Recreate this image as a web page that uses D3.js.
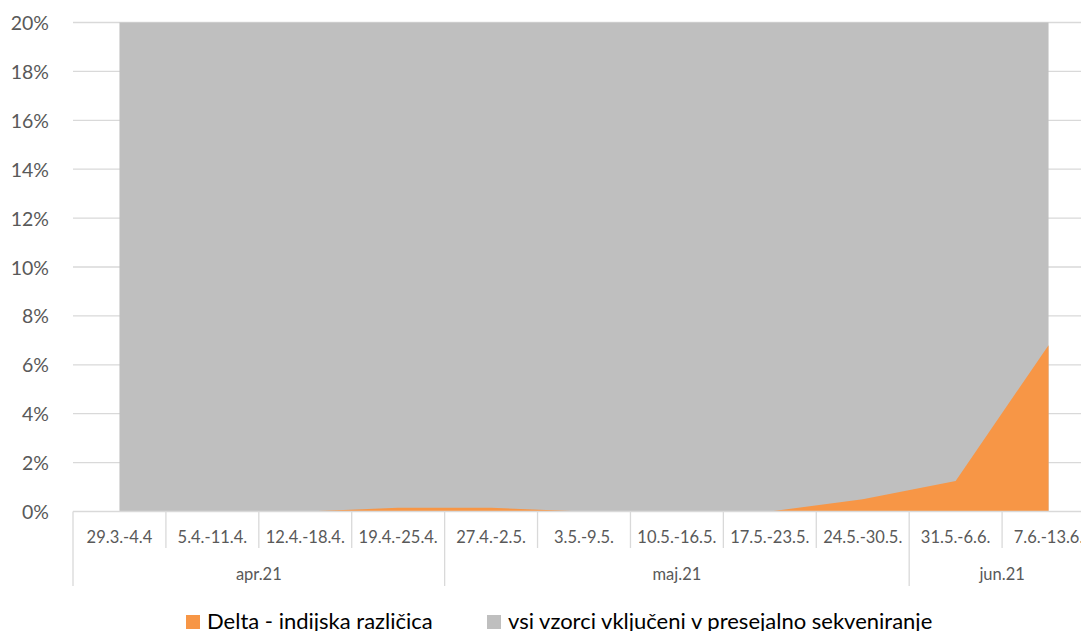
<!DOCTYPE html>
<html><head><meta charset="utf-8">
<script src="https://cdn.jsdelivr.net/npm/d3@7"></script>
<style>
html,body{margin:0;padding:0;background:#fff;overflow:hidden;}
svg{display:block;font-family:Lato,"Open Sans",sans-serif;}
</style></head>
<body><svg id="chart" width="1081" height="631"></svg>
<script>
const categories = ["29.3.-4.4","5.4.-11.4.","12.4.-18.4.","19.4.-25.4.","27.4.-2.5.","3.5.-9.5.","10.5.-16.5.","17.5.-23.5.","24.5.-30.5.","31.5.-6.6.","7.6.-13.6."];
const months = ["apr.21","maj.21","jun.21"];
const monthSpans = [4,5,2];
const deltaValues = [0,0,0,0.15,0.15,0,0,0,0.5,1.25,6.8];
const allSamples = [100,100,100,100,100,100,100,100,100,100,100];
const yTicks = [0,2,4,6,8,10,12,14,16,18,20];
const seriesNames = ["Delta - indijska različica","vsi vzorci vključeni v presejalno sekveniranje"];
const colors = ["#F79646","#BFBFBF"];

const svg = d3.select("#chart");
const pLeft = 73, pRight = 1095, pTop = 22.5, pBottom = 511.5;
const x = d3.scaleBand().domain(categories).range([pLeft,pRight]).paddingInner(0).paddingOuter(0);
const y = d3.scaleLinear().domain([0,20]).range([pBottom,pTop]);
const cx = c => x(c) + x.bandwidth()/2;

svg.append("defs").append("clipPath").attr("id","plotclip")
  .append("rect").attr("x",pLeft).attr("y",pTop).attr("width",pRight-pLeft).attr("height",pBottom-pTop);

// gridlines
svg.append("g").selectAll("line").data(yTicks.slice(1)).join("line")
  .attr("x1",pLeft).attr("x2",1081).attr("y1",d=>y(d)).attr("y2",d=>y(d))
  .attr("stroke","#d9d9d9").attr("stroke-width",1.3);

// y labels
svg.append("g").selectAll("text").data(yTicks).join("text")
  .attr("x",49).attr("y",d=>y(d)).attr("text-anchor","end").attr("dominant-baseline","central")
  .attr("fill","#595959").style("font-size","19.5px").text(d=>d+"%");

const plot = svg.append("g").attr("clip-path","url(#plotclip)");
const area = vals => d3.area().x((d,i)=>cx(categories[i])).y0(y(0)).y1(d=>y(d))(vals);
plot.append("path").attr("d",area(allSamples)).attr("fill",colors[1]);
plot.append("path").attr("d",area(deltaValues)).attr("fill",colors[0]);

// x axis line
svg.append("line").attr("x1",pLeft).attr("x2",1081).attr("y1",y(0)).attr("y2",y(0))
  .attr("stroke","#d9d9d9").attr("stroke-width",1.3);

// category tick separators
const bounds = categories.map(c=>x(c));
bounds.push(pRight);
svg.append("g").selectAll("line").data(bounds).join("line")
  .attr("x1",d=>d).attr("x2",d=>d).attr("y1",y(0)).attr("y2",548)
  .attr("stroke","#d9d9d9").attr("stroke-width",1.3);

// category labels
svg.append("g").selectAll("text").data(categories).join("text")
  .attr("x",d=>cx(d)).attr("y",537).attr("text-anchor","middle").attr("dominant-baseline","central")
  .attr("fill","#595959").style("font-size","16.5px").text(d=>d);

// month groups
let idx = 0;
const groups = months.map((m,i)=>{const s=idx; idx+=monthSpans[i]; return {m, x0:x(categories[s]), x1: (idx<categories.length? x(categories[idx]) : pRight)};});
const gbounds = [groups[0].x0].concat(groups.map(g=>g.x1));
svg.append("g").selectAll("line").data(gbounds).join("line")
  .attr("x1",d=>d).attr("x2",d=>d).attr("y1",548).attr("y2",586)
  .attr("stroke","#d9d9d9").attr("stroke-width",1.3);
svg.append("g").selectAll("text").data(groups).join("text")
  .attr("x",d=>(d.x0+d.x1)/2).attr("y",574).attr("text-anchor","middle").attr("dominant-baseline","central")
  .attr("fill","#595959").style("font-size","16.5px").text(d=>d.m);

// legend
const legX = [186,487];
const leg = svg.append("g").selectAll("g").data(seriesNames).join("g");
leg.append("rect").attr("x",(d,i)=>legX[i]).attr("y",615).attr("width",14).attr("height",14).attr("fill",(d,i)=>colors[i]);
leg.append("text").attr("x",(d,i)=>legX[i]+21).attr("y",629).attr("fill","#000")
  .style("font-size","22px").text(d=>d);
</script></body></html>
